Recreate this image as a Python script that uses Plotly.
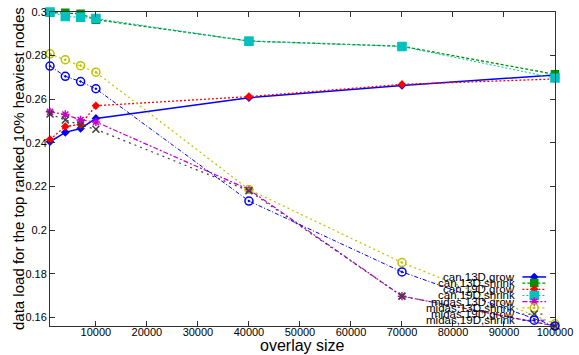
import plotly.graph_objects as go

# Overlay sizes on the x axis
overlay_size = [1000, 4000, 7000, 10000, 40000, 70000, 100000]

# Data load of the top ranked 10% heaviest nodes, one list per configuration
can_13d_grow = [0.2405, 0.2448, 0.2466, 0.2512, 0.2607, 0.2663, 0.2711]
can_13d_shrink = [0.2998, 0.2996, 0.2992, 0.2965, 0.2867, 0.2843, 0.2714]
can_19d_grow = [0.2415, 0.2475, 0.2484, 0.2570, 0.2612, 0.2668, 0.2693]
can_19d_shrink = [0.3000, 0.2979, 0.2976, 0.2970, 0.2866, 0.2842, 0.2697]
midas_13d_grow = [0.2542, 0.2530, 0.2505, 0.2496, 0.2186, 0.1697, 0.1560]
midas_13d_shrink = [0.2808, 0.2781, 0.2754, 0.2724, 0.2186, 0.1851, 0.1570]
midas_19d_grow = [0.2532, 0.2505, 0.2482, 0.2462, 0.2180, 0.1697, 0.1560]
midas_19d_shrink = [0.2752, 0.2705, 0.2681, 0.2648, 0.2133, 0.1808, 0.1560]

series_names = ["can,13D,grow", "can,13D,shrink", "can,19D,grow", "can,19D,shrink",
                "midas,13D,grow", "midas,13D,shrink", "midas,19D,grow", "midas,19D,shrink"]
series_values = [can_13d_grow, can_13d_shrink, can_19d_grow, can_19d_shrink,
                 midas_13d_grow, midas_13d_shrink, midas_19d_grow, midas_19d_shrink]

x_tick_vals = [10000, 20000, 30000, 40000, 50000, 60000, 70000, 80000, 90000, 100000]
x_tick_text = ["10000", "20000", "30000", "40000", "50000", "60000", "70000", "80000", "90000", "100000"]
y_tick_vals = [0.16, 0.18, 0.2, 0.22, 0.24, 0.26, 0.28, 0.3]
y_tick_text = ["0.16", "0.18", "0.2", "0.22", "0.24", "0.26", "0.28", "0.3"]

# gnuplot-like styling per series: colour, dash, marker symbol, marker size, line width
styles = [
    dict(color="#0000ff", dash="solid", symbol="diamond", size=5, width=1.5),
    dict(color="#009000", dash="3px,2px", symbol="square", size=7, width=1.3),
    dict(color="#ff0000", dash="2px,2px", symbol="diamond", size=5, width=1.3),
    dict(color="#00c0c0", dash="2px,2px", symbol="square", size=8, width=1.0),
    dict(color="#c800c8", dash="5px,2px,2px,2px", symbol="asterisk-open", size=7, width=1.2),
    dict(color="#c0c000", dash="2px,3px", symbol="circle-open-dot", size=8, width=1.2),
    dict(color="#404040", dash="2px,4px", symbol="x-thin-open", size=7, width=1.2),
    dict(color="#0000ff", dash="4px,2px,1px,2px", symbol="circle-open-dot", size=8, width=1.0),
]

W, H = 579, 355
M_L, M_R, M_T, M_B = 50, 18, 6, 29
PW, PH = W - M_L - M_R, H - M_T - M_B

FONT = "Liberation Sans, Arial, sans-serif"

fig = go.Figure()

for name, vals, st in zip(series_names, series_values, styles):
    fig.add_trace(go.Scatter(
        x=overlay_size, y=vals, name=name, mode="lines+markers",
        line=dict(color=st["color"], dash=st["dash"], width=st["width"]),
        marker=dict(symbol=st["symbol"], size=st["size"], color=st["color"],
                    line=dict(color=st["color"], width=1.5)),
        cliponaxis=False, showlegend=False,
    ))

# Hand-built key in the lower right corner (tightly stacked rows)
def px_to_paper_x(px):
    return (px - M_L) / PW

def px_to_paper_y(py):
    return (M_T + PH - py) / PH

row0, row_step = 276.0, 6.3
for i, (name, st) in enumerate(zip(series_names, styles)):
    yy = px_to_paper_y(row0 + i * row_step)
    fig.add_trace(go.Scatter(
        x=[px_to_paper_x(528), px_to_paper_x(552)], y=[yy, yy], mode="lines",
        line=dict(color=st["color"], dash=st["dash"], width=st["width"]),
        xaxis="x2", yaxis="y2", showlegend=False, hoverinfo="skip",
    ))
    fig.add_trace(go.Scatter(
        x=[px_to_paper_x(540)], y=[yy], mode="markers",
        marker=dict(symbol=st["symbol"], size=st["size"], color=st["color"],
                    line=dict(color=st["color"], width=1.5)),
        xaxis="x2", yaxis="y2", showlegend=False, hoverinfo="skip", cliponaxis=False,
    ))
    fig.add_annotation(
        x=px_to_paper_x(523), y=yy, xref="paper", yref="paper",
        text=name, showarrow=False, xanchor="right", yanchor="middle",
        font=dict(family=FONT, size=11.5, color="#000000"),
    )

axis_common = dict(
    showgrid=False, zeroline=False, showline=True, linecolor="#303030", linewidth=1,
    mirror="ticks", ticks="inside", ticklen=5, tickcolor="#303030",
    tickfont=dict(family=FONT, size=11, color="#000000"),
    ticklabeloverflow="allow",
)

fig.update_layout(
    width=W, height=H,
    margin=dict(l=M_L, r=M_R, t=M_T, b=M_B, pad=0),
    paper_bgcolor="white", plot_bgcolor="white",
    xaxis=dict(range=[1000, 100000], tickvals=x_tick_vals, ticktext=x_tick_text,
               ticklabelstandoff=-4, **axis_common),
    yaxis=dict(range=[0.156, 0.3], tickvals=y_tick_vals, ticktext=y_tick_text, **axis_common),
    xaxis2=dict(overlaying="x", range=[0, 1], visible=False),
    yaxis2=dict(overlaying="y", range=[0, 1], visible=False),
)

# Axis titles
fig.add_annotation(
    x=0, y=0.5, xref="paper", yref="paper", xshift=-32,
    text="data load for the top ranked 10% heaviest nodes", textangle=-90,
    showarrow=False, xanchor="center", yanchor="middle",
    font=dict(family=FONT, size=15, color="#000000"),
)
fig.add_annotation(
    x=0.5, y=0, xref="paper", yref="paper", yshift=-19,
    text="overlay size", showarrow=False, xanchor="center", yanchor="middle",
    font=dict(family=FONT, size=16, color="#000000"),
)

fig.write_html("out.html")
